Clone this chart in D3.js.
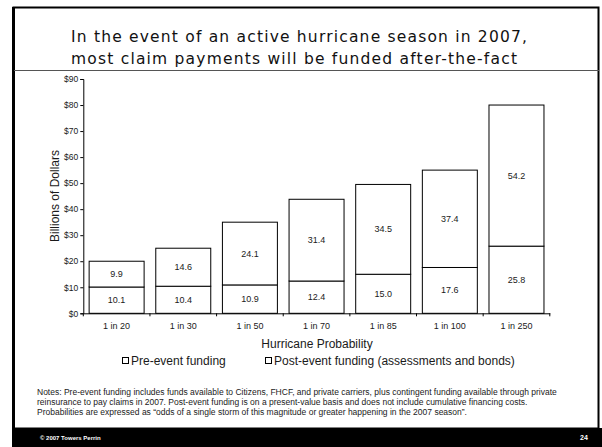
<!DOCTYPE html>
<html>
<head>
<meta charset="utf-8">
<script src="https://cdn.jsdelivr.net/npm/d3@7/dist/d3.min.js"></script>
<style>
  html, body { margin: 0; padding: 0; background: #fff; }
  svg { display: block; }
  text { font-family: "Liberation Sans", Arial, sans-serif; fill: #1a1a1a; }
</style>
</head>
<body>
<script>
// Hurricane return periods along the x axis
const categories = ["1 in 20", "1 in 30", "1 in 50", "1 in 70", "1 in 85", "1 in 100", "1 in 250"];
// Billions of dollars, pre-event funding (bottom segment)
const preEvent = [10.1, 10.4, 10.9, 12.4, 15.0, 17.6, 25.8];
// Billions of dollars, post-event funding (top segment)
const postEvent = [9.9, 14.6, 24.1, 31.4, 34.5, 37.4, 54.2];
const yTicks = [0, 10, 20, 30, 40, 50, 60, 70, 80, 90];
const seriesNames = ["Pre-event funding", "Post-event funding (assessments and bonds)"];
const titleLines = [
  "In the event of an active hurricane season in 2007,",
  "most claim payments will be funded after-the-fact"
];
const noteLines = [
  "Notes: Pre-event funding includes funds available to Citizens, FHCF, and private carriers, plus contingent funding available through private",
  "reinsurance to pay claims in 2007. Post-event funding is on a present-value basis and does not include cumulative financing costs.",
  "Probabilities are expressed as \u201codds of a single storm of this magnitude or greater happening in the 2007 season\u201d."
];

const W = 602, H = 447;
const svg = d3.select("body").append("svg").attr("width", W).attr("height", H);

// Slide frame
svg.append("rect").attr("x", 13.5).attr("y", 7.5).attr("width", 585).attr("height", 421)
  .attr("fill", "#fff").attr("stroke", "#000").attr("stroke-width", 2);
svg.append("line").attr("x1", 13.5).attr("x2", 13.5).attr("y1", 7).attr("y2", 428)
  .attr("stroke", "#000").attr("stroke-width", 3);
// Header rule
svg.append("line").attr("x1", 14).attr("x2", 599).attr("y1", 70.5).attr("y2", 70.5)
  .attr("stroke", "#555").attr("stroke-width", 1);
// Footer band
svg.append("rect").attr("x", 12).attr("y", 428).attr("width", W - 12).attr("height", H - 428)
  .attr("fill", "#000");
svg.append("text").attr("x", 40).attr("y", 439.5).text("\u00a9 2007 Towers Perrin")
  .style("font-size", "6px").style("font-weight", "bold").style("fill", "#fff");
svg.append("text").attr("x", 580).attr("y", 440).text("24")
  .style("font-size", "7px").style("font-weight", "bold").style("fill", "#fff");

// Title: size each line so it spans its measured width
const titleWidths = [456, 446];
svg.selectAll("text.title").data(titleLines).join("text")
  .attr("class", "title")
  .attr("x", 71).attr("y", (d, i) => 42 + i * 21.5)
  .style("font-family", "'DejaVu Sans', Verdana, sans-serif")
  .style("font-size", "14px")
  .style("fill", "#111")
  .text(d => d)
  .each(function(d, i) {
    const w = this.getComputedTextLength();
    const fs = 14 * titleWidths[i] / w;
    d3.select(this).style("font-size", Math.min(fs, 15.5) + "px")
      .attr("textLength", titleWidths[i]).attr("lengthAdjust", "spacing");
  });

// Scales
const x = d3.scaleBand().domain(categories).range([83.3, 549.8])
  .paddingInner(0.175).paddingOuter(0.0875);
const y = d3.scaleLinear().domain([0, 90]).range([313.3, 79]);

const g = svg.append("g");

// Stacked bars
const stacked = categories.map((c, i) => ({ c, pre: preEvent[i], post: postEvent[i] }));
const bars = g.selectAll("g.bar").data(stacked).join("g").attr("class", "bar");
bars.append("rect")
  .attr("x", d => x(d.c)).attr("width", x.bandwidth())
  .attr("y", d => y(d.pre)).attr("height", d => y(0) - y(d.pre))
  .attr("fill", "#fff").attr("stroke", "#000").attr("stroke-width", 1);
bars.append("rect")
  .attr("x", d => x(d.c)).attr("width", x.bandwidth())
  .attr("y", d => y(d.pre + d.post)).attr("height", d => y(d.pre) - y(d.pre + d.post))
  .attr("fill", "#fff").attr("stroke", "#000").attr("stroke-width", 1);
bars.append("text")
  .attr("x", d => x(d.c) + x.bandwidth() / 2)
  .attr("y", d => (y(0) + y(d.pre)) / 2 + 3)
  .attr("text-anchor", "middle").style("font-size", "9px")
  .text(d => d.pre.toFixed(1));
bars.append("text")
  .attr("x", d => x(d.c) + x.bandwidth() / 2)
  .attr("y", d => (y(d.pre) + y(d.pre + d.post)) / 2 + 3)
  .attr("text-anchor", "middle").style("font-size", "9px")
  .text(d => d.post.toFixed(1));

// Y axis
const yAxis = d3.axisLeft(y).tickValues(yTicks).tickSize(3).tickPadding(2)
  .tickFormat(d => "$" + d);
const ya = g.append("g").attr("transform", "translate(83.3,0)").call(yAxis);
ya.select(".domain").attr("stroke", "#000");
ya.selectAll(".tick line").attr("stroke", "#000");
ya.selectAll(".tick text").style("font-size", "8.5px").style("font-family", "'Liberation Sans', Arial, sans-serif").attr("fill", "#1a1a1a");

// X axis with ticks at category boundaries
const xAxis = d3.axisBottom(x).tickSize(0).tickPadding(9);
const xa = g.append("g").attr("transform", `translate(0,${y(0)})`).call(xAxis);
xa.select(".domain").attr("stroke", "#000");
xa.selectAll(".tick text").style("font-size", "9px").style("font-family", "'Liberation Sans', Arial, sans-serif").attr("fill", "#1a1a1a");
const step = x.step();
const x0 = x.range()[0];
xa.selectAll("line.sep").data(d3.range(categories.length + 1)).join("line")
  .attr("class", "sep")
  .attr("x1", i => x0 + i * step).attr("x2", i => x0 + i * step)
  .attr("y1", 0).attr("y2", 3).attr("stroke", "#000");

// Axis titles
svg.append("text").attr("x", 317).attr("y", 347.5).attr("text-anchor", "middle")
  .style("font-size", "12px").text("Hurricane Probability");
svg.append("text").attr("transform", "translate(59,196) rotate(-90)").attr("text-anchor", "middle")
  .style("font-size", "12px").text("Billions of Dollars");

// Legend
const legendX = [122.5, 265.5];
const lg = svg.selectAll("g.legend").data(seriesNames).join("g").attr("class", "legend")
  .attr("transform", (d, i) => `translate(${legendX[i]},357.5)`);
lg.append("rect").attr("width", 6).attr("height", 6)
  .attr("fill", "#fff").attr("stroke", "#000").attr("stroke-width", 1);
lg.append("text").attr("x", 8.5).attr("y", 7.5).style("font-size", "12px").text(d => d);

// Notes
svg.selectAll("text.note").data(noteLines).join("text").attr("class", "note")
  .attr("x", 37).attr("y", (d, i) => 394.5 + i * 10)
  .style("font-size", "8.5px").text(d => d);
</script>
</body>
</html>
